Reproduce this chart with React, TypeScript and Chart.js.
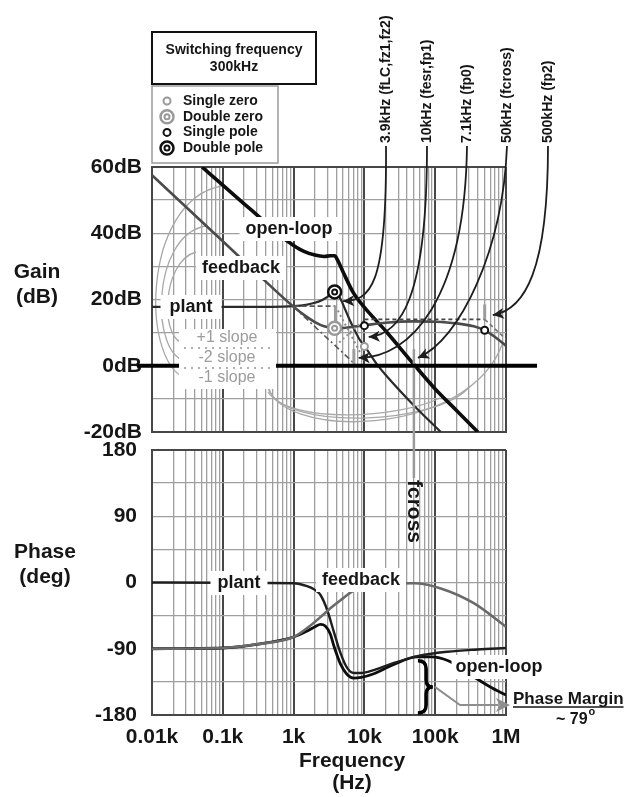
import React, { useEffect, useRef } from "react";
import { Chart, registerables } from "chart.js";
Chart.register(...registerables);

const W = 632;
const H = 797;
const FAMILY = "'Liberation Sans', Arial, Helvetica, sans-serif";
const TEXT = "#161616";

// ---------------- axes ----------------
const FREQ_MIN = 10;
const FREQ_MAX = 1000000;
const freqDecades = [10, 100, 1000, 10000, 100000, 1000000];
const freqDecadeLabels = ["0.01k", "0.1k", "1k", "10k", "100k", "1M"];
const gainMin = -20;
const gainMax = 60;
const gainLabelValues = [-20, 0, 20, 40, 60];
const phaseMin = -180;
const phaseMax = 180;
const phaseLabelValues = [-180, -90, 0, 90, 180];

// ---------------- gain (dB) ----------------
const openLoopGainFreq = [51, 100, 200, 400, 718, 1000, 1400, 2000, 2700, 3300, 3800, 4200, 5000, 7000, 10000, 20000, 50000, 100000, 200000, 400000];
const openLoopGainDb = [60, 54.5, 48.9, 43.3, 38.5, 36.3, 34.5, 33.4, 33, 33.2, 33.2, 31.8, 28.3, 22, 17.6, 10.5, 0.4, -7, -13.5, -20];

const plantGainFreq = [10, 500, 1000, 1500, 2000, 2500, 3000, 3400, 3800, 4200, 4700, 5300, 6000, 7000, 8500, 10000, 15000, 20000, 50000, 120000];
const plantGainDb = [17.8, 17.8, 18, 18.4, 19, 19.8, 20.8, 21.7, 22.3, 21.6, 19.8, 17.2, 14.5, 11.5, 8, 6, 0.5, -2.8, -12, -20];

const feedbackGainFreq = [10, 30, 100, 300, 1000, 1500, 2000, 2700, 3800, 5000, 7000, 10000, 20000, 50000, 100000, 200000, 350000, 500000, 700000, 1000000];
const feedbackGainDb = [57.5, 48, 37.6, 28, 17.8, 14.9, 13.2, 11.9, 11.3, 11.4, 11.8, 12.2, 13, 13.4, 13.3, 12.8, 11.9, 10.7, 8.7, 6];

// asymptotes
const plantAsymFlatFreq = [1000, 3900];
const plantAsymFlatDb = [18, 18];
const plantAsymSlopeFreq = [3900, 10000];
const plantAsymSlopeDb = [18, 1.6];
const fbAsymIntFreq = [1000, 7100];
const fbAsymIntDb = [17.8, 0.8];
const fbAsymRiseFreq = [3900, 10000];
const fbAsymRiseDb = [6, 14];
const fbAsymFlatFreq = [10000, 500000];
const fbAsymFlatDb = [14, 14];
const fbAsymFallFreq = [500000, 1000000];
const fbAsymFallDb = [14, 8];

// pole / zero markers
const doublePoleFreq = [3800];
const doublePoleDb = [22.3];
const doubleZeroFreq = [3800];
const doubleZeroDb = [11.3];
const singlePoleFreq = [10000, 500000];
const singlePoleDb = [12.1, 10.7];
const singleZeroFreq = [10000];
const singleZeroDb = [5.8];

// short gray break marks
const breakMarkFreq = [3900, 7100, 500000];
const breakMarkLow = [10.5, 0, 14];
const breakMarkHigh = [18, 5, 18.5];

// ---------------- phase (deg) ----------------
const plantPhaseFreq = [10, 1000, 1550, 2000, 2400, 3000, 3700, 4600, 5700, 7100, 9000, 13600, 25000, 56000, 150000, 400000, 1000000];
const plantPhaseDeg = [0, -1, -5, -10, -17, -38, -67, -96, -116, -123, -123, -119, -110, -100, -94, -91, -89];

const openLoopPhaseFreq = [10, 100, 300, 1000, 1550, 2000, 2400, 2800, 3300, 3700, 4600, 5700, 7100, 9000, 13600, 25000, 56000, 90000, 150000, 350000, 600000, 1000000];
const openLoopPhaseDeg = [-90, -89, -84, -74, -66, -60, -57, -59, -70, -86, -111, -125, -130, -129, -124, -112, -101, -101, -106, -128, -142, -153];

const feedbackPhaseFreq = [10, 100, 300, 1000, 1600, 2400, 3300, 4600, 7100, 12000, 25000, 50000, 120000, 350000, 1000000];
const feedbackPhaseDeg = [-90, -89, -84, -74, -61, -47, -35, -24, -11, -5, -1.5, -1, -8, -28, -60];

// ---------------- annotations ----------------
const freqNotes = ["3.9kHz (fLC,fz1,fz2)", "10kHz (fesr,fp1)", "7.1kHz (fp0)", "50kHz (fcross)", "500kHz (fp2)"];
const noteTipFreq = [5000, 11500, 8300, 57000, 650000];
const noteTipDb = [19.5, 8.7, 2.4, 2.4, 15.3];
const fcrossFreq = 50000;
const fcrossTopDb = 5;
const openLoopPhaseAtCross = -101;
const legendItems = ["Single zero", "Double zero", "Single pole", "Double pole"];
const slopeItems = ["+1 slope", "-2 slope", "-1 slope"];

// ---------------- layout (pixels) ----------------
const PLOT_LEFT = 152;
const PLOT_RIGHT = 506;
const GAIN_TOP = 167;
const GAIN_BOTTOM = 432;
const PHASE_TOP = 450;
const PHASE_BOTTOM = 715;
const NOTE_X = [386, 427, 467, 507, 548];
const NOTE_BASE_Y = 145;
const NOTE_CP = [
  [387, 290, 370, 300],
  [427, 300, 400, 335],
  [465, 300, 410, 358],
  [503, 250, 460, 340],
  [548, 270, 525, 310],
];
const ARCS = [
  [190, 379, 140, 372, 140, 200, 222, 186],
  [188, 361, 150, 360, 150, 235, 206, 226],
  [186, 343, 160, 345, 160, 262, 196, 252],
  [268, 383, 272, 440, 470, 440, 503, 342],
  [268, 388, 282, 432, 440, 425, 470, 386],
  [268, 392, 290, 425, 400, 418, 440, 398],
];

const GRID_MINOR = "#9f9f9f";
const GRID_MAJOR = "#474747";

function f(size: number, weight = "bold") {
  return `${weight} ${size}px ${FAMILY}`;
}
function pts(xs: number[], ys: number[]) {
  return xs.map((x, i) => ({ x, y: ys[i] }));
}
function isDecade(v: any) {
  if (typeof v !== "number" || v <= 0) return false;
  const l = Math.log10(v);
  return Math.abs(l - Math.round(l)) < 1e-9;
}
function logTicks() {
  const t: any[] = [];
  for (let e = 1; e <= 6; e++) {
    for (let m = 1; m <= 9; m++) {
      const v = m * Math.pow(10, e);
      if (v > FREQ_MAX) break;
      t.push({ value: v, major: m === 1 });
    }
  }
  return t;
}

function xAxis(showLabels: boolean, height: number) {
  return {
    type: "logarithmic",
    min: FREQ_MIN,
    max: FREQ_MAX,
    afterBuildTicks: (s: any) => {
      s.ticks = logTicks();
    },
    afterFit: (s: any) => {
      s.height = height;
    },
    grid: {
      drawTicks: false,
      color: (c: any) => (isDecade(c.tick && c.tick.value) ? GRID_MAJOR : GRID_MINOR),
      lineWidth: (c: any) => (isDecade(c.tick && c.tick.value) ? 2 : 1.3),
    },
    border: { display: true, color: GRID_MAJOR, width: 2 },
    ticks: {
      display: showLabels,
      autoSkip: false,
      maxRotation: 0,
      minRotation: 0,
      padding: 10,
      color: TEXT,
      font: { family: FAMILY, size: 21, weight: "bold" },
      callback: (v: any) => {
        const i = freqDecades.indexOf(Number(v));
        return i >= 0 ? freqDecadeLabels[i] : "";
      },
    },
  };
}

function yAxis(min: number, max: number, step: number, labels: number[], suffix: string, pad: number) {
  return {
    type: "linear",
    min,
    max,
    afterFit: (s: any) => {
      s.width = PLOT_LEFT;
    },
    grid: {
      drawTicks: false,
      color: (c: any) => (c.tick && (c.tick.value === min || c.tick.value === max) ? GRID_MAJOR : GRID_MINOR),
      lineWidth: (c: any) => (c.tick && (c.tick.value === min || c.tick.value === max) ? 2 : 1.3),
    },
    border: { display: true, color: GRID_MAJOR, width: 2 },
    ticks: {
      stepSize: step,
      padding: pad,
      color: TEXT,
      font: { family: FAMILY, size: 21, weight: "bold" },
      callback: (v: any) => (labels.includes(Number(v)) ? `${v}${suffix}` : ""),
    },
  };
}

function line(data: any[], color: string, width: number, dash: number[] = []) {
  return {
    data,
    borderColor: color,
    borderWidth: width,
    borderDash: dash,
    pointRadius: 0,
    fill: false,
    cubicInterpolationMode: "monotone",
  };
}

function arrowHead(ctx: any, x: number, y: number, ang: number, size: number, color: string) {
  ctx.save();
  ctx.translate(x, y);
  ctx.rotate(ang);
  ctx.beginPath();
  ctx.moveTo(0, 0);
  ctx.lineTo(-size, -size * 0.5);
  ctx.lineTo(-size * 0.75, 0);
  ctx.lineTo(-size, size * 0.5);
  ctx.closePath();
  ctx.fillStyle = color;
  ctx.fill();
  ctx.restore();
}

function ring(ctx: any, x: number, y: number, r: number, color: string, w: number) {
  ctx.beginPath();
  ctx.arc(x, y, r, 0, Math.PI * 2);
  ctx.fillStyle = "#fff";
  ctx.fill();
  ctx.lineWidth = w;
  ctx.strokeStyle = color;
  ctx.stroke();
}
function drawMarker(ctx: any, kind: number, x: number, y: number) {
  const gray = "#9a9a9a";
  const dark = "#111";
  if (kind === 0) ring(ctx, x, y, 3.5, gray, 2);
  if (kind === 1) {
    ring(ctx, x, y, 6.5, gray, 2.5);
    ring(ctx, x, y, 2.5, gray, 2);
  }
  if (kind === 2) ring(ctx, x, y, 3.5, dark, 2);
  if (kind === 3) {
    ring(ctx, x, y, 6.5, dark, 2.5);
    ring(ctx, x, y, 2.5, dark, 2);
  }
}

function boxedLabel(ctx: any, text: string, cx: number, cy: number, size: number, padX: number, padY: number, color = TEXT) {
  ctx.font = f(size);
  const w = ctx.measureText(text).width;
  ctx.fillStyle = "#fff";
  ctx.fillRect(cx - w / 2 - padX, cy - size / 2 - padY, w + 2 * padX, size + 2 * padY);
  ctx.fillStyle = color;
  ctx.textAlign = "center";
  ctx.textBaseline = "middle";
  ctx.fillText(text, cx, cy);
}

const gainNotes = {
  id: "gainNotes",
  beforeDatasetsDraw(chart: any) {
    const ctx = chart.ctx;
    ctx.save();
    ctx.strokeStyle = "#a8a8a8";
    ctx.lineWidth = 1.3;
    for (const a of ARCS) {
      ctx.beginPath();
      ctx.moveTo(a[0], a[1]);
      ctx.bezierCurveTo(a[2], a[3], a[4], a[5], a[6], a[7]);
      ctx.stroke();
    }
    ctx.restore();
  },
  afterDatasetsDraw(chart: any) {
    const ctx = chart.ctx;
    const xs = chart.scales.x;
    const ys = chart.scales.y;
    const px = (v: number) => xs.getPixelForValue(v);
    const py = (v: number) => ys.getPixelForValue(v);
    ctx.save();

    // gray break marks
    ctx.strokeStyle = "#9d9d9d";
    ctx.lineWidth = 3;
    breakMarkFreq.forEach((fr, i) => {
      ctx.beginPath();
      ctx.moveTo(px(fr), py(breakMarkLow[i]));
      ctx.lineTo(px(fr), py(breakMarkHigh[i]));
      ctx.stroke();
    });

    // fcross line
    ctx.strokeStyle = "#9a9a9a";
    ctx.lineWidth = 2.5;
    ctx.beginPath();
    ctx.moveTo(px(fcrossFreq), py(fcrossTopDb));
    ctx.lineTo(px(fcrossFreq), 478);
    ctx.stroke();

    // 0 dB line
    ctx.strokeStyle = "#000";
    ctx.lineWidth = 4;
    ctx.beginPath();
    ctx.moveTo(137, py(0));
    ctx.lineTo(537, py(0));
    ctx.stroke();

    // markers
    singleZeroFreq.forEach((fr, i) => drawMarker(ctx, 0, px(fr), py(singleZeroDb[i])));
    doubleZeroFreq.forEach((fr, i) => drawMarker(ctx, 1, px(fr), py(doubleZeroDb[i])));
    singlePoleFreq.forEach((fr, i) => drawMarker(ctx, 2, px(fr), py(singlePoleDb[i])));
    doublePoleFreq.forEach((fr, i) => drawMarker(ctx, 3, px(fr), py(doublePoleDb[i])));

    // curve labels
    boxedLabel(ctx, "open-loop", 289, 229, 18, 6, 3);
    boxedLabel(ctx, "feedback", 241, 268, 18, 6, 3);
    boxedLabel(ctx, "plant", 191, 307, 18, 9, 3);

    // slope key
    ctx.fillStyle = "#fff";
    ctx.fillRect(179, 329, 97, 60);
    ctx.strokeStyle = "#b0b0b0";
    ctx.lineWidth = 2;
    ctx.setLineDash([2, 5]);
    [348, 368].forEach((yy) => {
      ctx.beginPath();
      ctx.moveTo(184, yy);
      ctx.lineTo(273, yy);
      ctx.stroke();
    });
    ctx.setLineDash([]);
    ctx.font = f(16, "normal");
    ctx.fillStyle = "#9c9c9c";
    ctx.textAlign = "center";
    ctx.textBaseline = "middle";
    slopeItems.forEach((s, i) => ctx.fillText(s, 227, 338 + i * 20));

    // frequency notes with arrows
    ctx.font = f(14);
    freqNotes.forEach((t, i) => {
      ctx.save();
      ctx.translate(NOTE_X[i], NOTE_BASE_Y - 2);
      ctx.rotate(-Math.PI / 2);
      ctx.fillStyle = TEXT;
      ctx.textAlign = "left";
      ctx.textBaseline = "middle";
      ctx.fillText(t, 0, 0);
      ctx.restore();
      const ex = px(noteTipFreq[i]);
      const ey = py(noteTipDb[i]);
      const c = NOTE_CP[i];
      ctx.strokeStyle = "#1e1e1e";
      ctx.lineWidth = 1.8;
      ctx.beginPath();
      ctx.moveTo(NOTE_X[i], NOTE_BASE_Y + 1);
      ctx.bezierCurveTo(c[0], c[1], c[2], c[3], ex, ey);
      ctx.stroke();
      arrowHead(ctx, ex, ey, Math.atan2(ey - c[3], ex - c[2]), 11, "#1e1e1e");
    });

    // title box
    ctx.strokeStyle = "#111";
    ctx.lineWidth = 2;
    ctx.strokeRect(152, 32, 164, 52);
    ctx.font = f(14);
    ctx.fillStyle = TEXT;
    ctx.textAlign = "center";
    ctx.textBaseline = "middle";
    ctx.fillText("Switching frequency", 234, 50);
    ctx.fillText("300kHz", 234, 67);

    // legend box
    ctx.strokeStyle = "#9a9a9a";
    ctx.lineWidth = 1.5;
    ctx.strokeRect(152, 86, 126, 77);
    legendItems.forEach((t, i) => {
      const yy = 101 + i * 15.7;
      drawMarker(ctx, i, 167, yy);
      ctx.font = f(14);
      ctx.fillStyle = TEXT;
      ctx.textAlign = "left";
      ctx.textBaseline = "middle";
      ctx.fillText(t, 183, yy);
    });

    // y title
    ctx.font = f(21);
    ctx.fillStyle = TEXT;
    ctx.textAlign = "center";
    ctx.fillText("Gain", 37, 272);
    ctx.fillText("(dB)", 37, 297);
    ctx.restore();
  },
};

const phaseNotes = {
  id: "phaseNotes",
  afterDatasetsDraw(chart: any) {
    const ctx = chart.ctx;
    const xs = chart.scales.x;
    const ys = chart.scales.y;
    const px = (v: number) => xs.getPixelForValue(v);
    const py = (v: number) => ys.getPixelForValue(v);
    ctx.save();

    boxedLabel(ctx, "plant", 239, 583, 18, 7, 3);
    boxedLabel(ctx, "feedback", 361, 580, 18, 6, 3);
    boxedLabel(ctx, "open-loop", 499, 667, 18, 4, 3);

    // fcross text
    ctx.save();
    ctx.translate(px(fcrossFreq), 480);
    ctx.rotate(Math.PI / 2);
    ctx.font = f(21);
    ctx.fillStyle = TEXT;
    ctx.textAlign = "left";
    ctx.textBaseline = "middle";
    ctx.fillText("fcross", 0, 0);
    ctx.restore();

    // phase-margin brace
    const bx = px(fcrossFreq) + 4;
    const y1 = py(openLoopPhaseAtCross) + 4;
    const y2 = py(phaseMin) - 2;
    const ym = (y1 + y2) / 2;
    const w = 15;
    ctx.strokeStyle = "#000";
    ctx.lineWidth = 3.5;
    ctx.beginPath();
    ctx.moveTo(bx, y1);
    ctx.quadraticCurveTo(bx + w * 0.55, y1, bx + w * 0.55, y1 + 8);
    ctx.lineTo(bx + w * 0.55, ym - 7);
    ctx.quadraticCurveTo(bx + w * 0.55, ym, bx + w, ym);
    ctx.quadraticCurveTo(bx + w * 0.55, ym, bx + w * 0.55, ym + 7);
    ctx.lineTo(bx + w * 0.55, y2 - 8);
    ctx.quadraticCurveTo(bx + w * 0.55, y2, bx, y2);
    ctx.stroke();

    // gray arrow to label
    ctx.strokeStyle = "#8e8e8e";
    ctx.lineWidth = 2;
    ctx.beginPath();
    ctx.moveTo(bx + w + 2, ym);
    ctx.lineTo(460, 705);
    ctx.lineTo(498, 705);
    ctx.stroke();
    arrowHead(ctx, 510, 705, 0, 14, "#8e8e8e");

    // Phase Margin text
    ctx.font = f(17);
    ctx.fillStyle = TEXT;
    ctx.textAlign = "left";
    ctx.textBaseline = "alphabetic";
    ctx.fillText("Phase Margin", 513, 704);
    const pmW = ctx.measureText("Phase Margin").width;
    ctx.strokeStyle = TEXT;
    ctx.lineWidth = 1.5;
    ctx.beginPath();
    ctx.moveTo(513, 707);
    ctx.lineTo(513 + pmW, 707);
    ctx.stroke();
    ctx.font = f(16);
    ctx.fillText("~ 79", 556, 724);
    const tw = ctx.measureText("~ 79").width;
    ctx.font = f(11);
    ctx.fillText("o", 556 + tw + 1, 715);

    // x title
    ctx.font = f(21);
    ctx.textAlign = "center";
    ctx.textBaseline = "middle";
    ctx.fillText("Frequency", 352, 761);
    ctx.fillText("(Hz)", 352, 783);

    // y title
    ctx.fillText("Phase", 45, 552);
    ctx.fillText("(deg)", 45, 577);
    ctx.restore();
  },
};

function gainConfig(): any {
  return {
    type: "line",
    data: {
      datasets: [
        line(pts(plantAsymFlatFreq, plantAsymFlatDb), "#555", 1.6, [5, 3]),
        line(pts(plantAsymSlopeFreq, plantAsymSlopeDb), "#8a8a8a", 2, [2, 3]),
        line(pts(fbAsymIntFreq, fbAsymIntDb), "#555", 1.6, [6, 3, 2, 3]),
        line(pts(fbAsymRiseFreq, fbAsymRiseDb), "#9a9a9a", 2, [2, 3]),
        line(pts(fbAsymFlatFreq, fbAsymFlatDb), "#444", 1.8, [4, 3]),
        line(pts(fbAsymFallFreq, fbAsymFallDb), "#777", 1.6, [4, 3]),
        line(pts(feedbackGainFreq, feedbackGainDb), "#4b4b4b", 2.6),
        line(pts(plantGainFreq, plantGainDb), "#2a2a2a", 2.2),
        line(pts(openLoopGainFreq, openLoopGainDb), "#0d0d0d", 3.6),
      ],
    },
    options: {
      responsive: false,
      animation: false,
      parsing: true,
      layout: { padding: { left: 0, right: W - PLOT_RIGHT, top: GAIN_TOP, bottom: H - GAIN_BOTTOM } },
      plugins: { legend: { display: false }, tooltip: { enabled: false }, title: { display: false } },
      scales: {
        x: xAxis(false, 0),
        y: yAxis(gainMin, gainMax, 10, gainLabelValues, "dB", 10),
      },
    },
    plugins: [gainNotes],
  };
}

function phaseConfig(): any {
  return {
    type: "line",
    data: {
      datasets: [
        line(pts(feedbackPhaseFreq, feedbackPhaseDeg), "#6a6a6a", 2.6),
        line(pts(plantPhaseFreq, plantPhaseDeg), "#1e1e1e", 2.4),
        line(pts(openLoopPhaseFreq, openLoopPhaseDeg), "#0d0d0d", 2.8),
      ],
    },
    options: {
      responsive: false,
      animation: false,
      layout: { padding: { left: 0, right: W - PLOT_RIGHT, top: PHASE_TOP, bottom: 0 } },
      plugins: { legend: { display: false }, tooltip: { enabled: false }, title: { display: false } },
      scales: {
        x: xAxis(true, H - PHASE_BOTTOM),
        y: yAxis(phaseMin, phaseMax, 45, phaseLabelValues, "", 15),
      },
    },
    plugins: [phaseNotes],
  };
}

export default function App() {
  const gainRef = useRef<HTMLCanvasElement>(null);
  const phaseRef = useRef<HTMLCanvasElement>(null);
  useEffect(() => {
    const p = new Chart(phaseRef.current as HTMLCanvasElement, phaseConfig());
    const g = new Chart(gainRef.current as HTMLCanvasElement, gainConfig());
    return () => {
      g.destroy();
      p.destroy();
    };
  }, []);
  return (
    <div style={{ position: "absolute", left: 0, top: 0, width: W, height: H, background: "#fff" }}>
      <canvas ref={phaseRef} width={W} height={H} style={{ position: "absolute", left: 0, top: 0 }} />
      <canvas ref={gainRef} width={W} height={H} style={{ position: "absolute", left: 0, top: 0 }} />
    </div>
  );
}
